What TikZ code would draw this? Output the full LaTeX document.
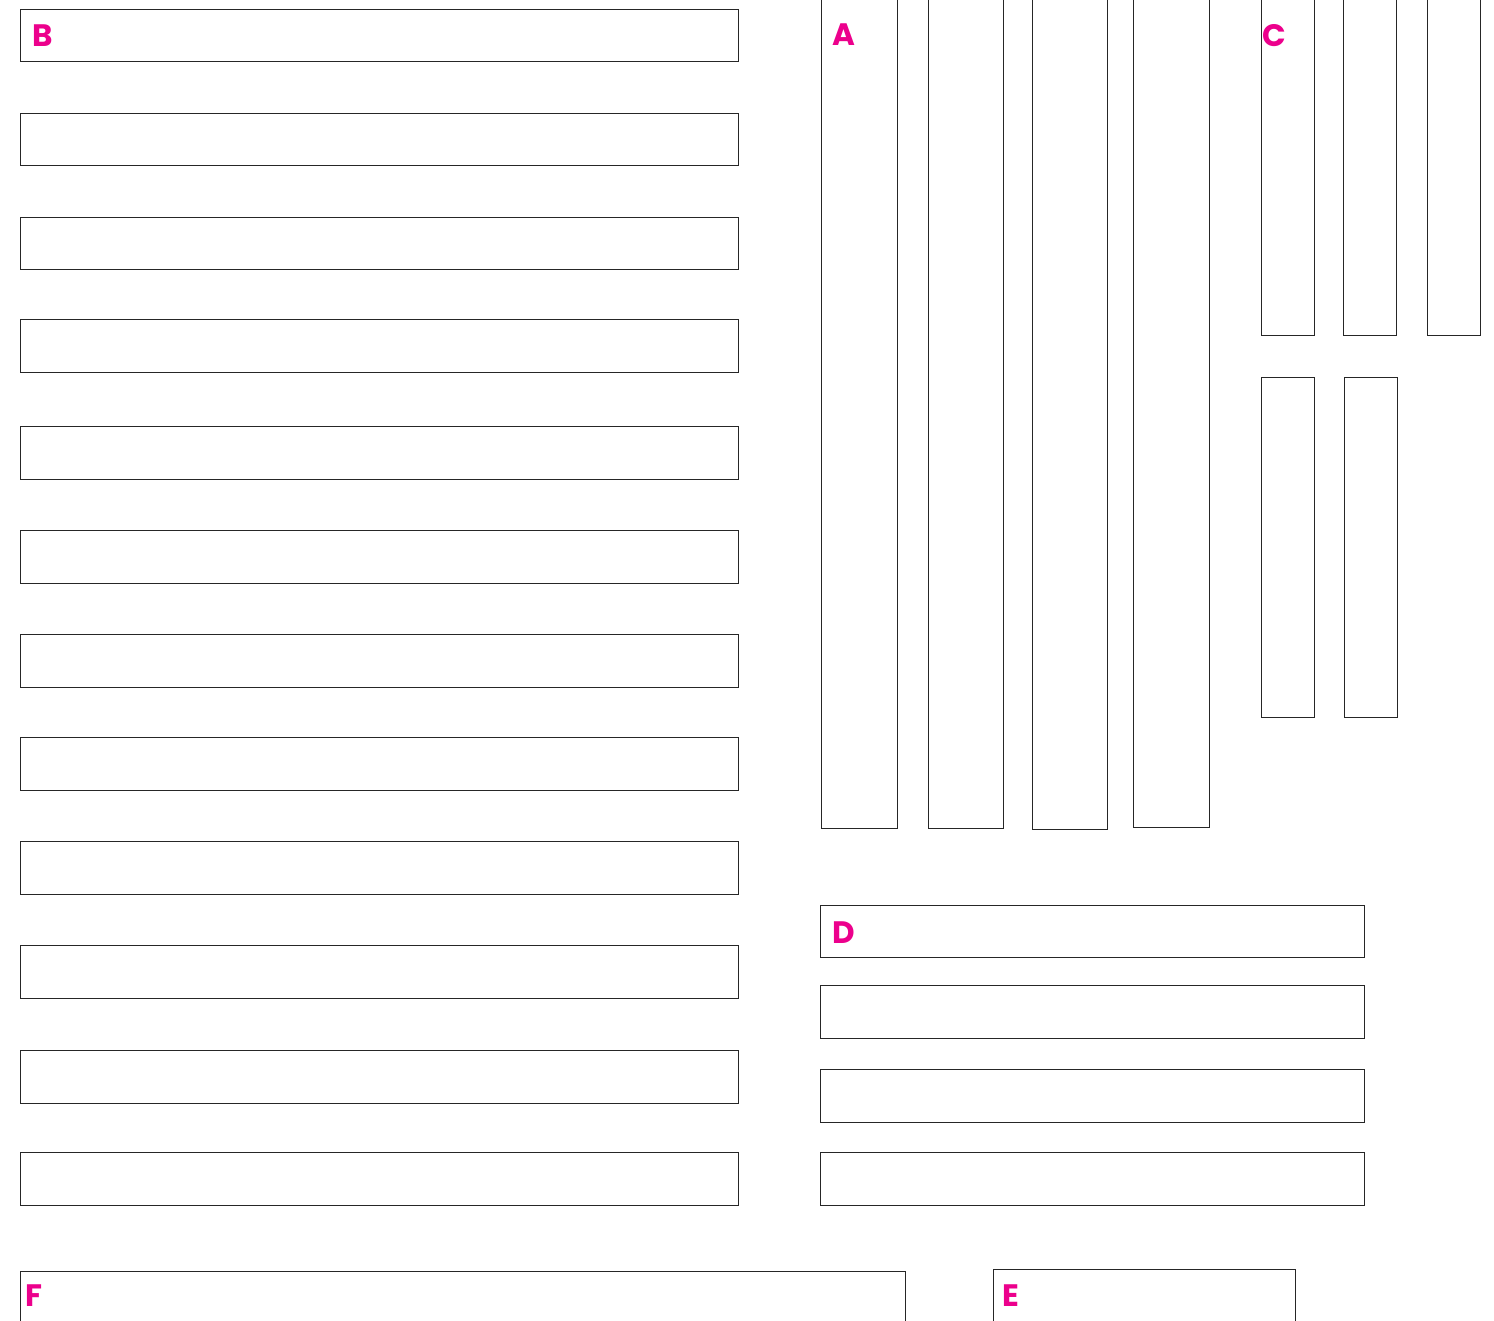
\documentclass[tikz,border=0pt]{standalone}
\usepackage{fontspec}
\newfontfamily\labfont{Poppins}
\definecolor{labpink}{RGB}{236,0,140}
\tikzset{
  panel/.style={draw=black!85, line width=1pt, fill=white},
  lab/.style={anchor=base west, inner sep=0pt, text=labpink, font=\labfont\bfseries\fontsize{31}{31}\selectfont}
}
\begin{document}
\begin{tikzpicture}[x=1pt,y=-1pt]
\useasboundingbox (0,0) rectangle (1494,1321);
\clip (0,0) rectangle (1494,1321);
% B column
\foreach \t/\b in {10/62,114/166,218/270,320/373,426/479,530/583,634/687,737/790,841/894,945/998,1050/1103,1152/1205}
  \draw[panel] (20,\t) rectangle (738,\b);
% A columns
\foreach \l/\r/\b in {821/897/828,928/1003/828,1032/1107/829,1133/1209/827}
  \draw[panel] (\l,-5) rectangle (\r,\b);
% C columns
\foreach \l/\r in {1261/1314,1343/1396,1427/1480}
  \draw[panel] (\l,-5) rectangle (\r,336);
\foreach \l/\r in {1261/1314,1344/1397}
  \draw[panel] (\l,378) rectangle (\r,717);
% D rows
\foreach \t/\b in {905/957,985/1038,1069/1122,1152/1205}
  \draw[panel] (820,\t) rectangle (1364,\b);
% F and E
\draw[panel] (20,1271) rectangle (905,1330);
\draw[panel] (993,1269) rectangle (1295,1330);
% labels
\node[lab] (labB) at (32,47) {B};
\node[lab] (labA) at (832,46) {A};
\node[lab] (labC) at (1262,47) {C};
\node[lab] (labD) at (832,943) {D};
\node[lab] (labF) at (25,1306) {F};
\node[lab] (labE) at (1002,1306) {E};
\end{tikzpicture}
\end{document}
